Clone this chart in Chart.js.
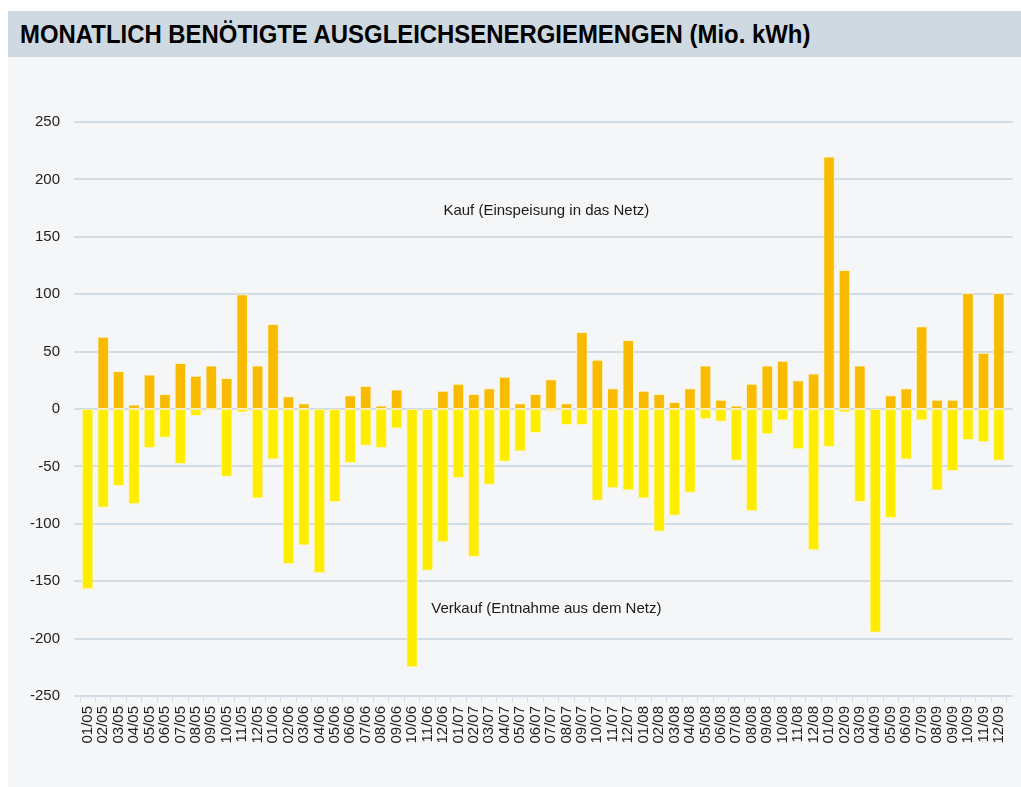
<!DOCTYPE html>
<html lang="de">
<head>
  <meta charset="UTF-8" />
  <title>Monatlich benötigte Ausgleichsenergiemengen</title>
  <script src="https://cdn.jsdelivr.net/npm/chart.js"></script>
  <style>
    html, body { margin: 0; padding: 0; background: #ffffff; }
    #panel {
      position: absolute; left: 8px; top: 11px; width: 1013px; height: 776px;
      background: #f4f6f8;
    }
    #header {
      position: absolute; left: 0; top: 0; width: 1013px; height: 46px;
      background: #cfd9e2;
    }
    #title {
      position: absolute; left: 12px; top: 9px; white-space: nowrap;
      font-family: "Liberation Sans Narrow", "Liberation Sans", Arial, sans-serif;
      font-weight: bold; font-size: 25px; color: #000;
      transform-origin: 0 0;
    }
    #wrap { position: absolute; left: 0; top: 46px; width: 1013px; height: 730px; }
  </style>
</head>
<body>
  <div id="panel">
    <div id="header"><span id="title">MONATLICH BENÖTIGTE AUSGLEICHSENERGIEMENGEN (Mio. kWh)</span></div>
    <div id="wrap"><canvas id="chartBalance"></canvas></div>
  </div>

  <script>
    // months 01/05 .. 12/09
    const months = [
      '01/05','02/05','03/05','04/05','05/05','06/05','07/05','08/05','09/05','10/05','11/05','12/05',
      '01/06','02/06','03/06','04/06','05/06','06/06','07/06','08/06','09/06','10/06','11/06','12/06',
      '01/07','02/07','03/07','04/07','05/07','06/07','07/07','08/07','09/07','10/07','11/07','12/07',
      '01/08','02/08','03/08','04/08','05/08','06/08','07/08','08/08','09/08','10/08','11/08','12/08',
      '01/09','02/09','03/09','04/09','05/09','06/09','07/09','08/09','09/09','10/09','11/09','12/09'
    ];

    // Kauf (Einspeisung in das Netz), Mio. kWh
    const kauf = [
      0, 63, 33, 4, 30, 13, 40, 29, 38, 27, 100, 38,
      74, 11, 5, 0, 0, 12, 20, 3, 17, 0, 0, 16,
      22, 13, 18, 28, 5, 13, 26, 5, 67, 43, 18, 60,
      16, 13, 6, 18, 38, 8, 3, 22, 38, 42, 25, 31,
      220, 121, 38, 0, 12, 18, 72, 8, 8, 101, 49, 101
    ];

    // Verkauf (Entnahme aus dem Netz), Mio. kWh
    const verkauf = [
      -157, -86, -67, -83, -34, -25, -48, -6, -1, -59, -3, -78,
      -44, -135, -119, -143, -81, -47, -32, -34, -17, -225, -141, -116,
      -60, -129, -66, -46, -37, -21, -2, -14, -14, -80, -69, -71,
      -78, -107, -93, -73, -9, -11, -45, -89, -22, -10, -35, -123,
      -33, -3, -81, -195, -95, -44, -10, -71, -54, -27, -29, -45
    ];

    const yTicks = { min: -250, max: 250, step: 50 };

    // annotation labels: [text, category position, value]
    const notes = [
      ['Kauf (Einspeisung in das Netz)', 29.7, 173],
      ['Verkauf (Entnahme aus dem Netz)', 29.7, -174]
    ];

    // squeeze the title to the reference width
    const titleEl = document.getElementById('title');
    titleEl.style.transform = 'scaleX(' + (790 / titleEl.offsetWidth) + ')';

    const gridColor = '#d2dce6';
    const tickFont = { family: '"Liberation Sans", Arial, sans-serif', size: 15 };

    // horizontal grid lines reach a bit past the first and last month
    const wideGrid = {
      id: 'wideGrid',
      beforeDatasetsDraw(chart) {
        const { ctx, chartArea, scales } = chart;
        ctx.save();
        ctx.strokeStyle = gridColor;
        ctx.lineWidth = 2;
        scales.y.ticks.forEach(t => {
          const y = Math.round(scales.y.getPixelForValue(t.value));
          ctx.beginPath();
          ctx.moveTo(chartArea.left - 6, y);
          ctx.lineTo(chartArea.right + 6, y);
          ctx.stroke();
        });
        ctx.restore();
      }
    };

    const noteLabels = {
      id: 'noteLabels',
      afterDatasetsDraw(chart) {
        const { ctx, scales } = chart;
        ctx.save();
        ctx.font = '15px "Liberation Sans", Arial, sans-serif';
        ctx.fillStyle = '#1a1a1a';
        ctx.textAlign = 'center';
        ctx.textBaseline = 'middle';
        notes.forEach(([text, pos, val]) => {
          ctx.fillText(text, scales.x.getPixelForValue(pos), scales.y.getPixelForValue(val));
        });
        ctx.restore();
      }
    };

    const ctx = document.getElementById('chartBalance').getContext('2d');
    const chart = new Chart(ctx, {
      type: 'bar',
      data: {
        labels: months,
        datasets: [
          {
            label: 'Kauf (Einspeisung in das Netz)',
            data: kauf,
            backgroundColor: '#f9bb00',
            borderColor: 'rgba(255, 240, 190, 0.8)',
            borderWidth: 1,
            borderSkipped: false,
            barPercentage: 0.75,
            categoryPercentage: 1
          },
          {
            label: 'Verkauf (Entnahme aus dem Netz)',
            data: verkauf,
            backgroundColor: '#ffed00',
            borderColor: 'rgba(255, 245, 170, 0.8)',
            borderWidth: 1,
            borderSkipped: false,
            barPercentage: 0.75,
            categoryPercentage: 1
          }
        ]
      },
      options: {
        responsive: true,
        maintainAspectRatio: false,
        animation: false,
        layout: { padding: { top: 65, right: 14, left: 0, bottom: 0 } },
        plugins: {
          legend: { display: false },
          tooltip: { enabled: false }
        },
        scales: {
          x: {
            stacked: true,
            afterFit(scale) { scale.height = 91; },
            grid: {
              drawOnChartArea: false,
              drawTicks: true,
              tickLength: 6,
              color: gridColor,
              lineWidth: 1
            },
            border: { display: false },
            ticks: {
              autoSkip: false,
              maxRotation: 90,
              minRotation: 90,
              padding: 4,
              color: '#222222',
              font: tickFont
            }
          },
          y: {
            stacked: true,
            min: yTicks.min,
            max: yTicks.max,
            afterFit(scale) { scale.width = 72; },
            grid: { display: false, drawTicks: false },
            border: { display: false },
            ticks: {
              stepSize: yTicks.step,
              padding: 20,
              color: '#222222',
              font: tickFont
            }
          }
        }
      },
      plugins: [wideGrid, noteLabels]
    });
  </script>
</body>
</html>
